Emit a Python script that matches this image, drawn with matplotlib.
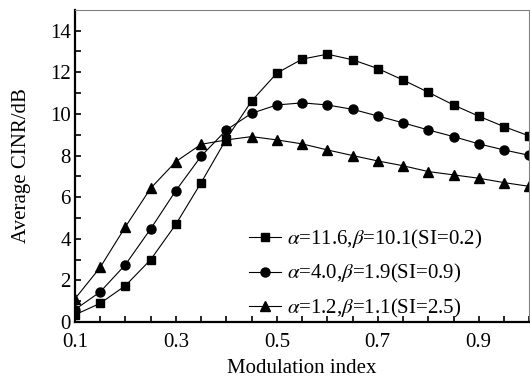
import matplotlib.pyplot as plt
import numpy as np

plt.rcParams['font.family'] = ['Liberation Serif', 'DejaVu Serif']
plt.rcParams['mathtext.fontset'] = 'stix'

# modulation index values where the curves were sampled
mod_index = np.arange(0.10, 1.001, 0.05)

# average CINR (dB) for each channel parameter set
cinr_si02 = [0.35, 0.9, 1.75, 3.0, 4.7, 6.7, 8.8, 10.62, 11.96, 12.63, 12.87,
             12.6, 12.18, 11.63, 11.04, 10.43, 9.89, 9.39, 8.94]
cinr_si09 = [0.6, 1.45, 2.76, 4.48, 6.32, 7.97, 9.23, 10.03, 10.43, 10.53, 10.43,
             10.22, 9.9, 9.57, 9.23, 8.91, 8.56, 8.27, 8.01]
cinr_si25 = [1.12, 2.63, 4.58, 6.43, 7.71, 8.54, 8.75, 8.91, 8.75, 8.56, 8.27,
             8.0, 7.74, 7.51, 7.23, 7.07, 6.91, 6.7, 6.52]

labels = [r'$\alpha$=11.6,$\beta$=10.1(SI=0.2)',
          r'$\alpha$=4.0,$\beta$=1.9(SI=0.9)',
          r'$\alpha$=1.2,$\beta$=1.1(SI=2.5)']

x_ticks = np.arange(0.10, 1.001, 0.05)
x_ticklabels = ['0.1', '', '', '', '0.3', '', '', '', '0.5', '', '', '', '0.7',
                '', '', '', '0.9', '', '']
y_ticks = np.arange(0, 15, 1)
y_ticklabels = ['0', '', '2', '', '4', '', '6', '', '8', '', '10', '', '12', '', '14']

fig = plt.figure(figsize=(5.3, 3.78), dpi=100)
ax = fig.add_axes([0.1415, 0.148, 0.857, 0.826])

ax.plot(mod_index, cinr_si02, color='black', lw=0.8, marker='s', ms=6, label=labels[0])
ax.plot(mod_index, cinr_si09, color='black', lw=0.8, marker='o', ms=6.5, label=labels[1])
ax.plot(mod_index, cinr_si25, color='black', lw=0.8, marker='^', ms=7.5, label=labels[2])

ax.set_xlim(0.1, 1.0)
ax.set_ylim(0, 15)
ax.set_xticks(x_ticks)
ax.set_xticklabels(x_ticklabels)
ax.set_yticks(y_ticks)
ax.set_yticklabels(y_ticklabels)
ax.tick_params(direction='in', length=4, width=1.2, labelsize=15)
ax.tick_params(axis='x', pad=8)
ax.tick_params(axis='y', pad=3)

ax.spines['left'].set_linewidth(1.6)
ax.spines['bottom'].set_linewidth(1.6)
ax.spines['top'].set_color('#808080')
ax.spines['right'].set_color('#808080')

ax.set_xlabel('Modulation index', fontsize=15, labelpad=5)
ax.set_ylabel('Average CINR/dB', fontsize=15, labelpad=14)

ax.legend(loc='lower right', frameon=False, fontsize=15, handlelength=1.5,
          handletextpad=0.3, labelspacing=0.55, borderaxespad=0.0,
          bbox_to_anchor=(0.915, -0.02))

fig.savefig('out.png', dpi=100)
